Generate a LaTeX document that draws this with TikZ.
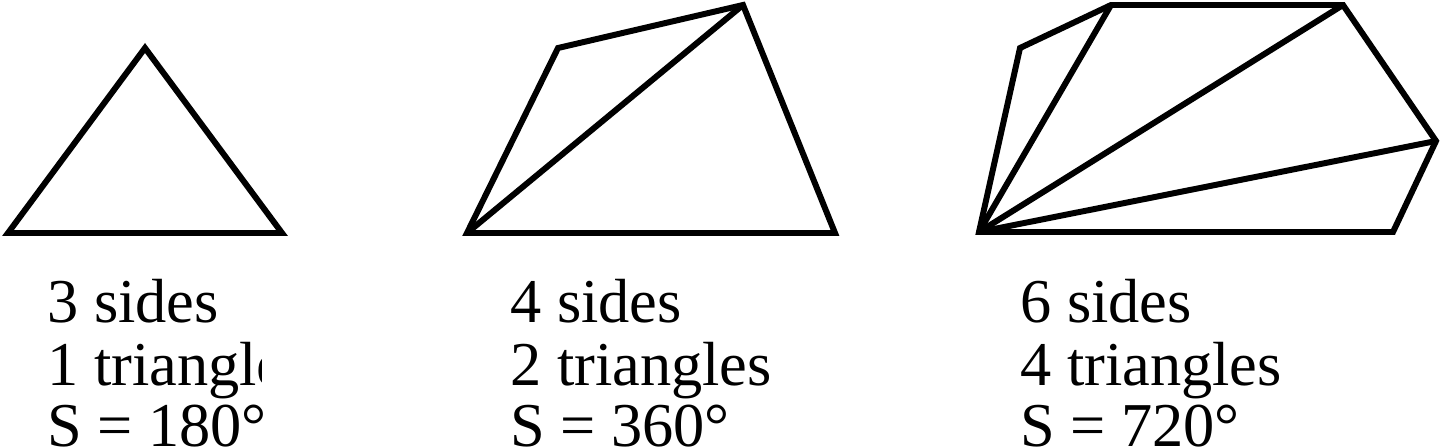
\documentclass[tikz,border=0pt]{standalone}
\usepackage{fontspec}
\setmainfont{Liberation Serif}
\tikzset{
  side/.style={line width=3.4pt, line join=miter},
  caption/.style={anchor=base west, inner sep=0pt, font=\fontsize{35.5}{40}\selectfont}
}
\begin{document}
\begin{tikzpicture}[x=0.02cm,y=-0.02cm]
	  \useasboundingbox (0,0) rectangle (1440,447);

	  % triangle
	  \coordinate (t1) at (8,233);
	  \coordinate (t2) at (145,48);
	  \coordinate (t3) at (282,233);
	  \draw [side] (t1)--(t2)--(t3)--cycle;

	  % quadrilateral
	  \coordinate (q1) at (467,233);
	  \coordinate (q2) at (558,48);
	  \coordinate (q3) at (743,5);
	  \coordinate (q4) at (835,233);
	  \draw [side] (q1)--(q2)--(q3)--(q4)--cycle;
	  \draw [side] (q1)--(q3);

	  % hexagon
	  \coordinate (h1) at (979,232);
	  \coordinate (h2) at (1020,48);
	  \coordinate (h3) at (1111,5);
	  \coordinate (h4) at (1343,5);
	  \coordinate (h5) at (1436,141);
	  \coordinate (h6) at (1393,232);
	  \draw [side] (h1)--(h2)--(h3)--(h4)--(h5)--(h6)--cycle;
	  \draw [side] (h1)--(h3);
	  \draw [side] (h1)--(h4);
	  \draw [side] (h1)--(h5);

	  % captions
	  \node [caption] (sidesA) at (47,322) {3 sides};
	  \begin{scope}
	    \clip (0,330) rectangle (261,400);
	    \node [caption] (triA) at (47,385) {1 triangle};
	  \end{scope}
	  \node [caption] (sumA) at (47,446) {S = 180°};

	  \node [caption] (sidesB) at (510,322) {4 sides};
	  \node [caption] (triB) at (510,385) {2 triangles};
	  \node [caption] (sumB) at (510,446) {S = 360°};

	  \node [caption] (sidesC) at (1020,322) {6 sides};
	  \node [caption] (triC) at (1020,385) {4 triangles};
	  \node [caption] (sumC) at (1020,446) {S = 720°};
\end{tikzpicture}
\end{document}
